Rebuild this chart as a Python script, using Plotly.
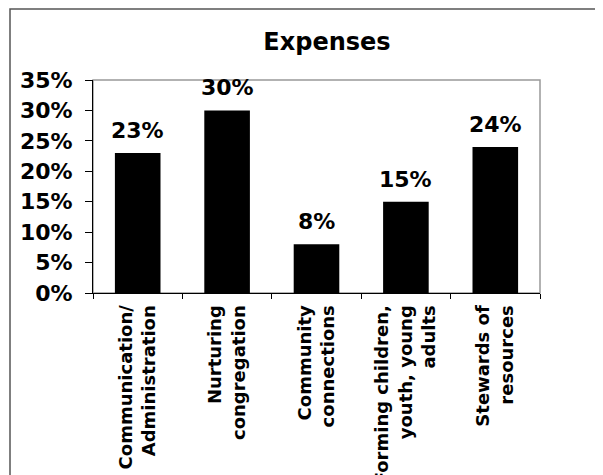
import plotly.graph_objects as go

categories = [
    "Communication/<br>Administration",
    "Nurturing<br>congregation",
    "Community<br>connections",
    "Forming children,<br>youth, young<br>adults",
    "Stewards of<br>resources",
]
values = [0.23, 0.30, 0.08, 0.15, 0.24]
title_text = "Expenses"

FONT = "DejaVu Sans"

# page body has an 8px default margin; figure is sized to compensate
W, H = 595, 467
L, T = 85, 72
PW, PH = 447, 213

fig = go.Figure()
fig.add_trace(go.Bar(
    x=categories,
    y=values,
    marker=dict(color="black", line=dict(width=0)),
    cliponaxis=False,
))

for c, v in zip(categories, values):
    fig.add_annotation(
        x=c, y=v, xref="x", yref="y",
        text=f"{v:.0%}", showarrow=False,
        yanchor="bottom", yshift=8,
        font=dict(family=FONT, size=22, color="black", weight="bold"),
    )

fig.update_layout(
    width=W, height=H,
    margin=dict(l=L, r=W - L - PW, t=T, b=H - T - PH, autoexpand=False),
    paper_bgcolor="white", plot_bgcolor="white",
    showlegend=False,
    bargap=0.49,
    title=dict(text=title_text, x=(327 - 8) / W, xanchor="center", y=1 - (42 - 8) / H, yanchor="middle",
               font=dict(family=FONT, size=24, color="black", weight="bold")),
    xaxis=dict(
        showline=True, linecolor="black", linewidth=1,
        ticks="outside", ticklen=5, tickcolor="black", tickson="boundaries",
        tickangle=-90, automargin=False, ticklabelstandoff=4,
        tickfont=dict(family=FONT, size=18, color="black", weight="bold"),
        showgrid=False,
    ),
    yaxis=dict(
        range=[0, 0.35], dtick=0.05, tickformat=".0%",
        showline=True, linecolor="black", linewidth=1,
        ticks="outside", ticklen=7, tickcolor="black",
        ticklabelstandoff=8, automargin=False,
        tickfont=dict(family=FONT, size=22, color="black", weight="bold"),
        showgrid=False, zeroline=False,
    ),
    shapes=[
        dict(type="rect", xref="paper", yref="paper", x0=0, y0=0, x1=1, y1=1,
             line=dict(color="#999999", width=1.5), layer="below"),
        dict(type="rect", xref="paper", yref="paper",
             x0=(10 - 93) / PW, y0=-1.0, x1=1.3, y1=1 + (80 - 9) / PH,
             line=dict(color="#555555", width=1.5), layer="below"),
    ],
)

fig.write_html("out.html")
